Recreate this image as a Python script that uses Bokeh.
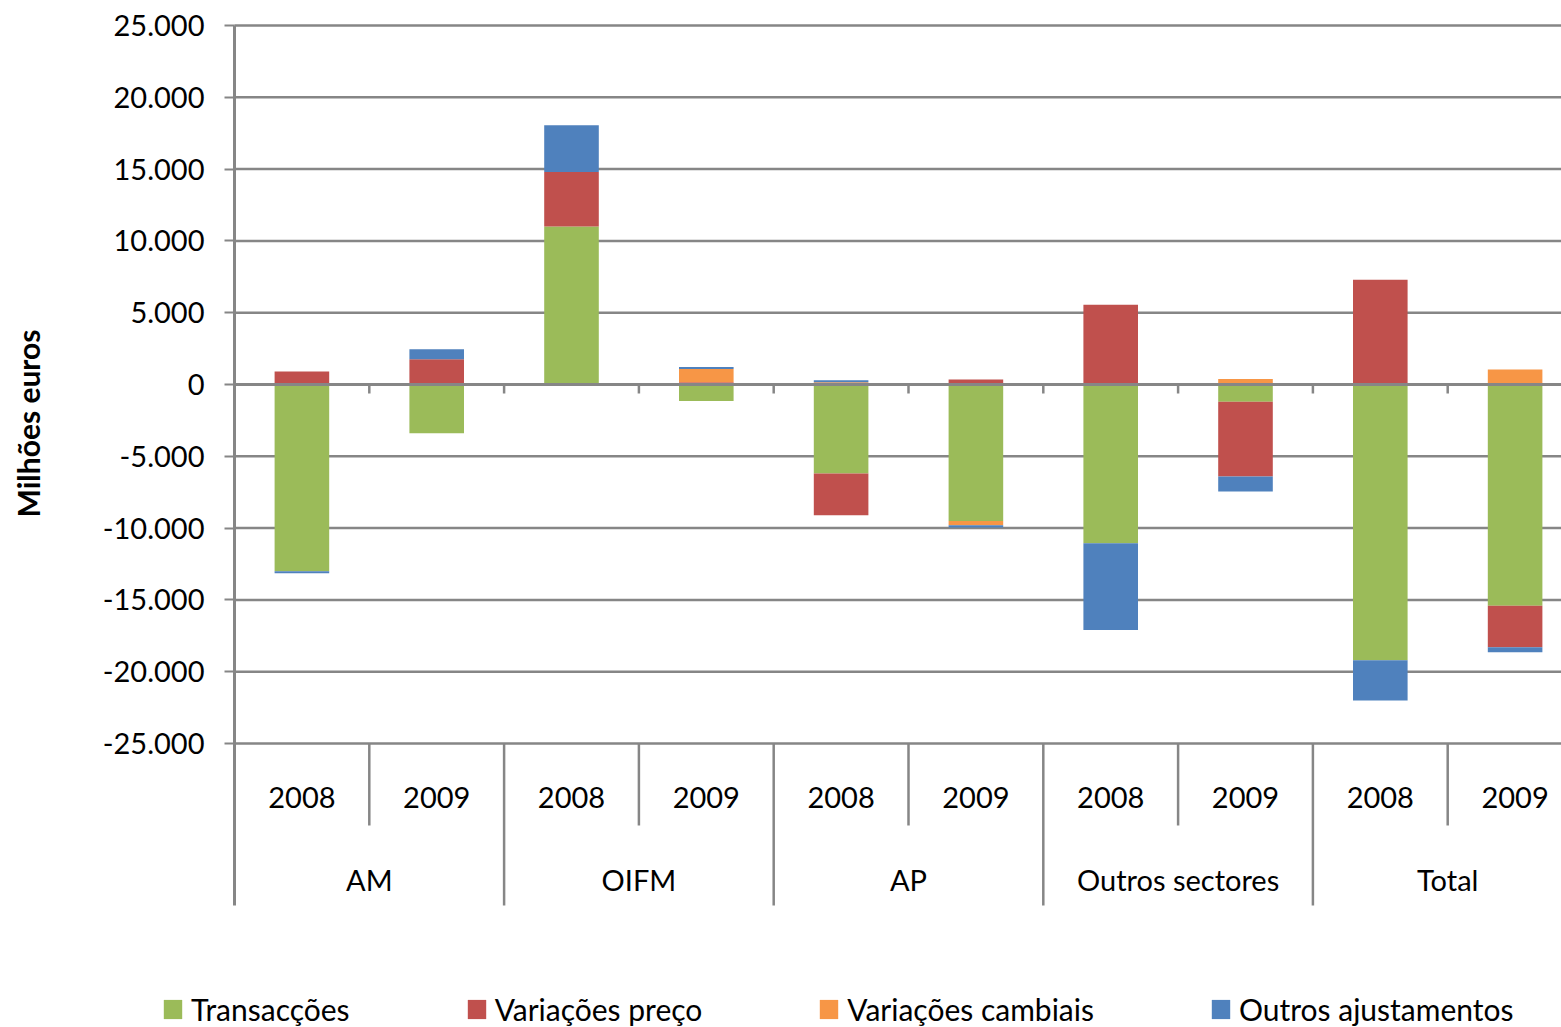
import numpy as np
from bokeh.plotting import figure
from bokeh.models import Range1d, FixedTicker, Legend, LegendItem, ColumnDataSource, LinearAxis, Label
from bokeh.core.properties import value
from bokeh.embed import file_html
from bokeh.resources import INLINE

# ---------------- data ----------------
sectors = ["AM", "OIFM", "AP", "Outros sectores", "Total"]
years = ["2008", "2009"]
series_names = ["Transacções", "Variações preço", "Variações cambiais", "Outros ajustamentos"]
series_colors = ["#9BBB59", "#C0504D", "#F79646", "#4F81BD"]

transaccoes = [-13000, -3400, 11000, -1150, -6200, -9500, -11050, -1200, -19200, -15400]
variacoes_preco = [900, 1750, 3800, 150, -2900, 350, 5550, -5200, 7300, -2900]
variacoes_cambiais = [0, 0, 0, 930, 150, -300, 0, 380, 0, 1050]
outros_ajustamentos = [-150, 700, 3250, 140, 150, -150, -6050, -1050, -2800, -350]

y_ticks = [-25000, -20000, -15000, -10000, -5000, 0, 5000, 10000, 15000, 20000, 25000]
y_tick_labels = ["-25.000", "-20.000", "-15.000", "-10.000", "-5.000", "0",
                 "5.000", "10.000", "15.000", "20.000", "25.000"]
y_axis_title = "Milhões euros"

# ---------------- geometry ----------------
FONT = "Lato"
GREY = "#868686"
W, H = 1561, 1027
AXIS_X_PX, TOP_TICK_PX = 234, 25      # pixel position of the value axis / top tick
AXIS_BOTTOM_PX = 905                  # bottom of the category-axis box
CAT_PX = 134.8                        # pixels per category slot
PX_PER_UNIT = 718.0 / 50000.0         # vertical pixels per unit
x_start = -AXIS_X_PX / CAT_PX
x_end = x_start + W / CAT_PX
y_max_tick = y_ticks[-1]
y_min_tick = y_ticks[0]
y_top = y_max_tick + TOP_TICK_PX / PX_PER_UNIT
y_bottom = y_max_tick - (H - TOP_TICK_PX) / PX_PER_UNIT

def px_below(base, px):
    return base - px / PX_PER_UNIT

y_axis_end = px_below(y_max_tick, AXIS_BOTTOM_PX - TOP_TICK_PX)
y_year_sep = px_below(y_min_tick, 82)
y_year_lbl = px_below(y_min_tick, 54)
y_group_lbl = px_below(y_min_tick, 136)

n = len(sectors) * len(years)
centers = np.arange(n) + 0.5

# ---------------- figure ----------------
p = figure(width=W, height=H, x_range=Range1d(x_start, x_end), y_range=Range1d(y_bottom, y_top),
           output_backend="svg", toolbar_location=None, x_axis_type=None, y_axis_type=None,
           min_border_left=0, min_border_top=0, min_border_right=0, min_border_bottom=0)
p.outline_line_color = None
p.background_fill_color = "white"
p.xgrid.visible = False
p.ygrid.visible = False

yaxis = LinearAxis(fixed_location=0, ticker=FixedTicker(ticks=y_ticks),
                   major_label_overrides={t: l for t, l in zip(y_ticks, y_tick_labels)})
yaxis.axis_line_color = None
yaxis.major_tick_line_color = GREY
yaxis.major_tick_line_width = 2
yaxis.major_tick_out = 10
yaxis.major_tick_in = 0
yaxis.minor_tick_line_color = None
yaxis.major_label_text_font = FONT
yaxis.major_label_text_font_size = "29px"
yaxis.major_label_text_color = "black"
yaxis.major_label_standoff = 20
p.add_layout(yaxis, "left")

p.add_layout(Label(x=27, y=H - 423, x_units="screen", y_units="screen", text=y_axis_title,
                   angle=np.pi / 2, text_align="center", text_baseline="middle",
                   text_font=FONT, text_font_size="30px", text_font_style="bold", text_color="black"))

# horizontal gridlines (behind bars)
p.segment(x0=[0] * len(y_ticks), y0=y_ticks, x1=[x_end] * len(y_ticks), y1=y_ticks,
          line_color=GREY, line_width=2.5)

# ---------------- stacked bars ----------------
all_series = [transaccoes, variacoes_preco, variacoes_cambiais, outros_ajustamentos]
pos = np.zeros(n)
neg = np.zeros(n)
renderers = []
for name, color, vals in zip(series_names, series_colors, all_series):
    arr = np.array(vals, dtype=float)
    bottom = np.where(arr >= 0, pos, neg)
    top = bottom + arr
    pos = np.where(arr >= 0, top, pos)
    neg = np.where(arr < 0, top, neg)
    src = ColumnDataSource(dict(x=centers, bottom=bottom, top=top))
    r = p.vbar(x="x", bottom="bottom", top="top", width=0.405, source=src,
               fill_color=color, line_color=None)
    renderers.append(r)

# zero axis line over bars, with its tick marks
p.segment(x0=[0], y0=[0], x1=[x_end], y1=[0], line_color=GREY, line_width=3)
bounds = np.arange(0, n + 1)
p.segment(x0=bounds, y0=np.zeros(len(bounds)), x1=bounds, y1=np.full(len(bounds), px_below(0, 9)),
          line_color=GREY, line_width=2.5)

# value axis line (runs down through the category box)
p.segment(x0=[0], y0=[y_max_tick], x1=[0], y1=[y_axis_end], line_color=GREY, line_width=3)

# category separators
year_sep_x = [i for i in range(1, n) if i % 2 == 1]
group_sep_x = [i for i in range(2, n + 1) if i % 2 == 0]
p.segment(x0=year_sep_x, y0=[y_min_tick] * len(year_sep_x), x1=year_sep_x, y1=[y_year_sep] * len(year_sep_x),
          line_color=GREY, line_width=2.5)
p.segment(x0=group_sep_x, y0=[y_min_tick] * len(group_sep_x), x1=group_sep_x, y1=[y_axis_end] * len(group_sep_x),
          line_color=GREY, line_width=2.5)

# category labels
year_labels = [y for s in sectors for y in years]
p.text(x=centers, y=[y_year_lbl] * n, text=year_labels, text_font=value(FONT), text_font_size="29px",
       text_align="center", text_baseline="middle", text_color="black")
group_centers = [len(years) * k + len(years) / 2 for k in range(len(sectors))]
p.text(x=group_centers, y=[y_group_lbl] * len(sectors), text=sectors, text_font=value(FONT),
       text_font_size="29px", text_align="center", text_baseline="middle", text_color="black")

# legend
legend = Legend(items=[LegendItem(label=nm, renderers=[r]) for nm, r in zip(series_names, renderers)],
                orientation="horizontal", location=(161, 0),
                label_text_font=FONT, label_text_font_size="30px", label_text_color="black",
                glyph_width=23, glyph_height=24, label_standoff=7, spacing=115,
                padding=0, margin=0, background_fill_alpha=0, border_line_color=None)
p.add_layout(legend)

open("out.html", "w").write(file_html(p, INLINE))
